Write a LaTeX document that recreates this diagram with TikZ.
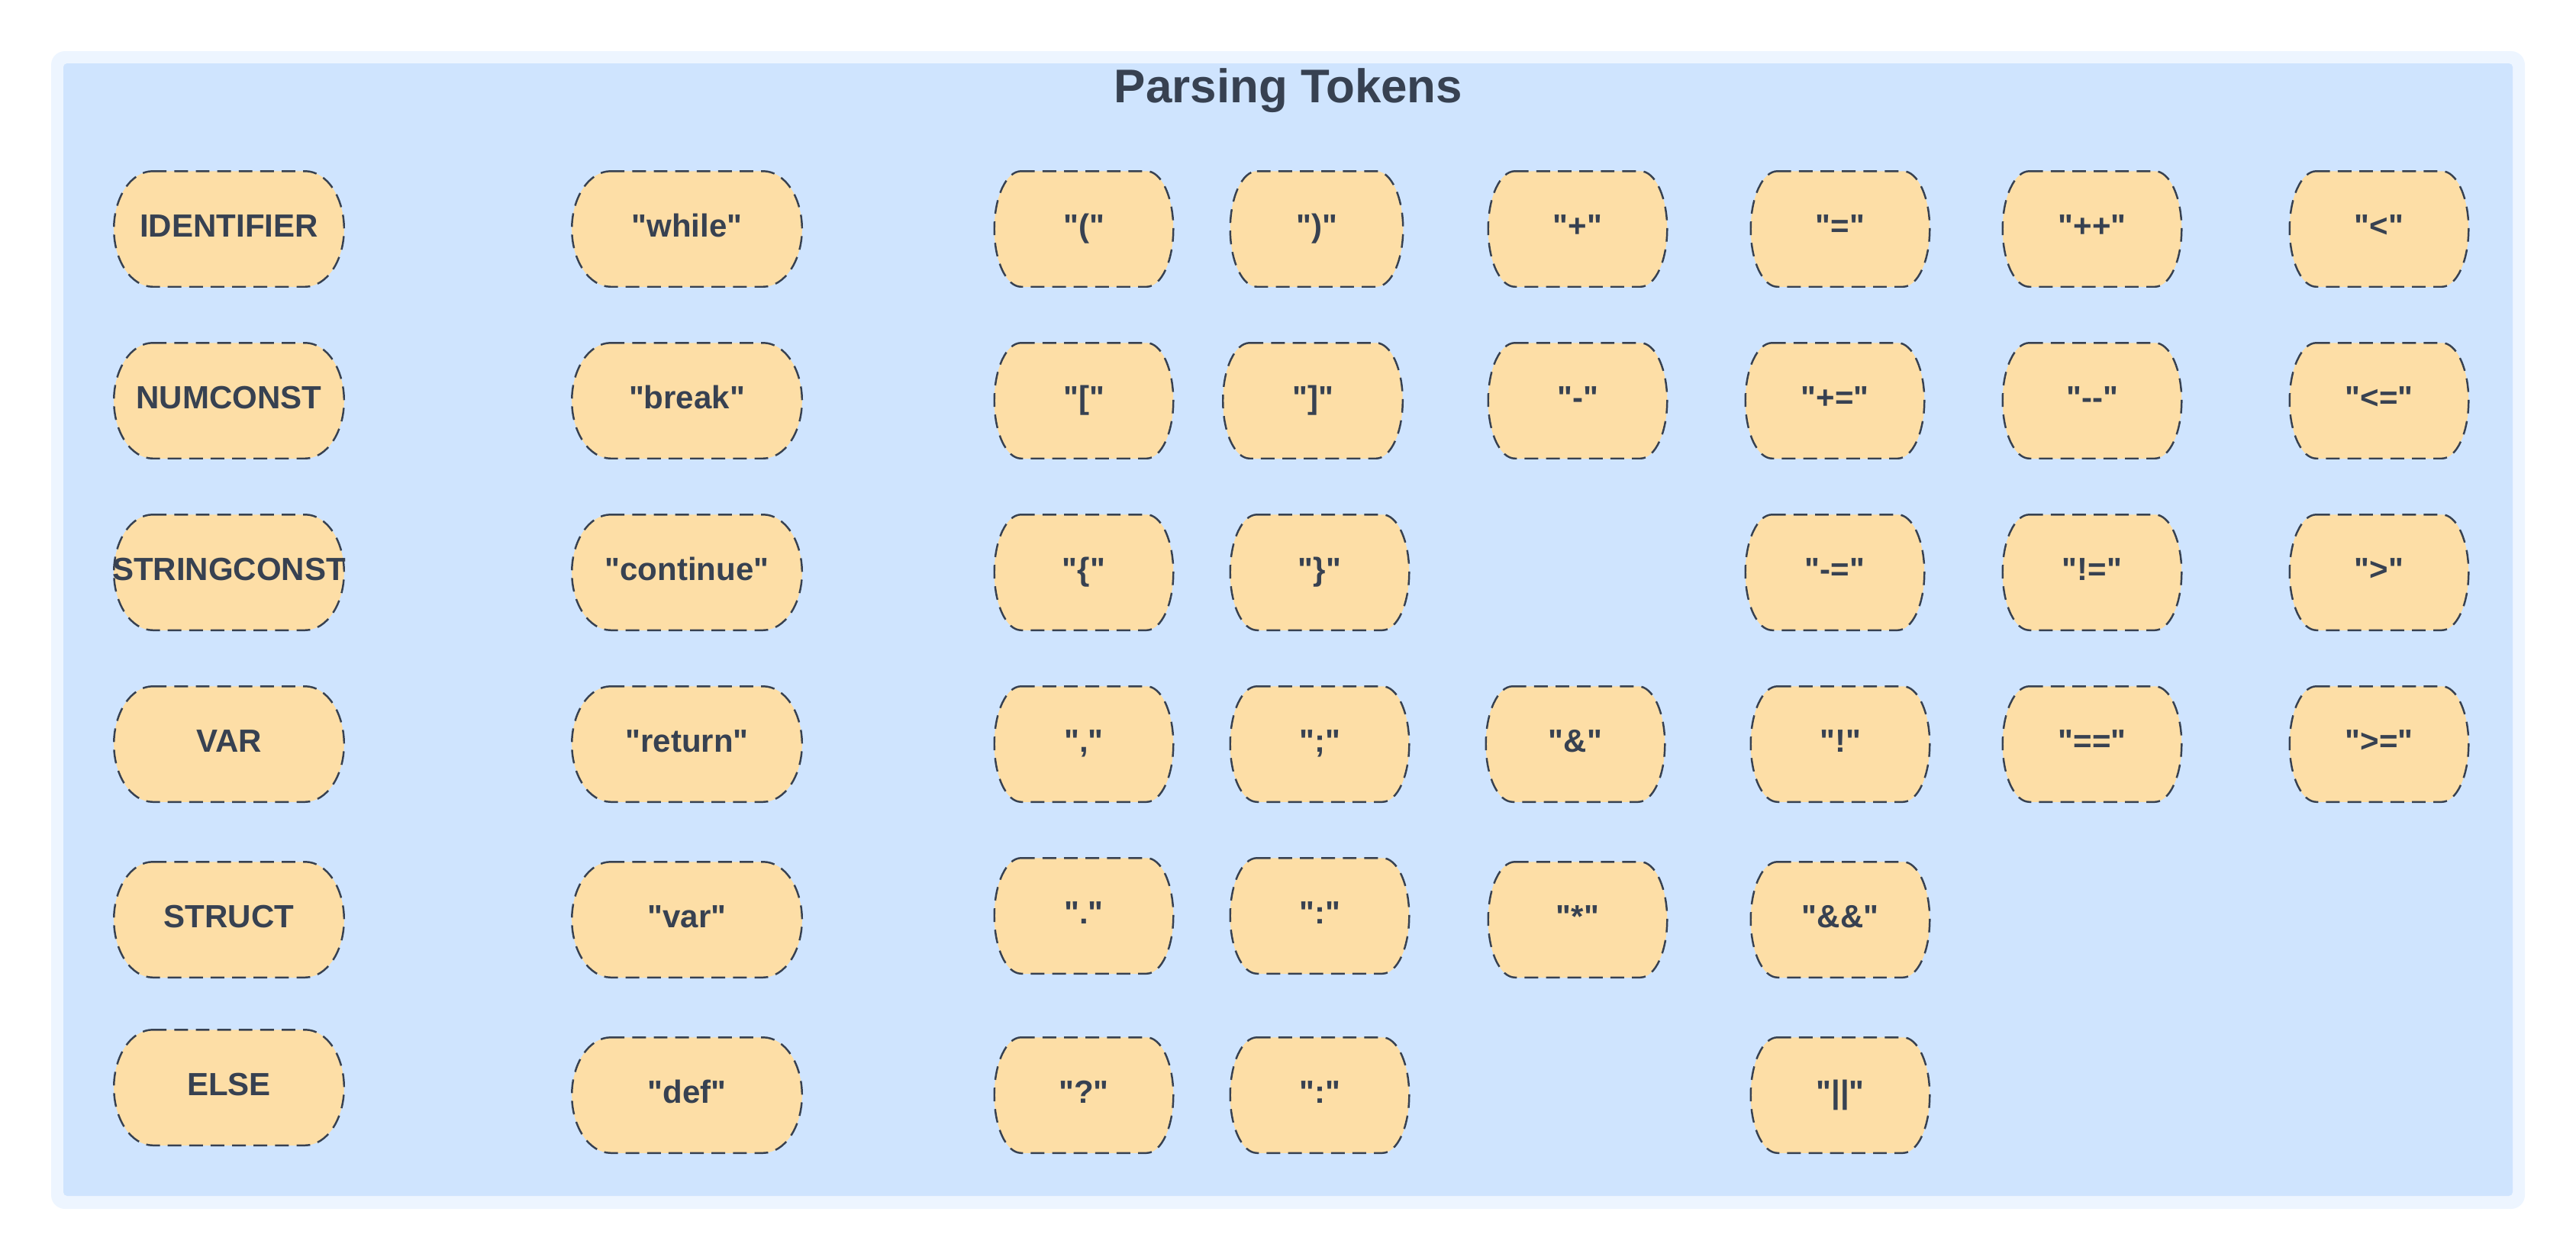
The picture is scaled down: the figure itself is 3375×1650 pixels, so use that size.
\documentclass[tikz,border=0pt]{standalone}
\usepackage{fontspec}
\setmainfont{Liberation Sans}[Ligatures=TeXOff]
\usepackage{xcolor}
\usepackage{tikz}
\usetikzlibrary{calc}
\definecolor{cadrepale}{RGB}{237,245,255}
\definecolor{fondbleu}{RGB}{207,228,254}
\definecolor{jetonorange}{RGB}{253,222,166}
\definecolor{encregris}{RGB}{55,65,81}
\pgfdeclarelayer{fond}
\pgfsetlayers{fond,main}
% barrel outline round a token node: #1 node, #2 side inset
\newcommand{\tokbarrel}[2]{%
  \draw[tokline] let \p1=(#1.north west), \p2=(#1.south east), \n1={(\y1-\y2)/2} in
    (\x1+#2,\y1) -- (\x2-#2,\y1)
    arc[start angle=90, end angle=-90, x radius=#2, y radius=\n1]
    -- (\x1+#2,\y2)
    arc[start angle=270, end angle=90, x radius=#2, y radius=\n1] -- cycle;}

\begin{document}
\begin{tikzpicture}[x=0.01cm, y=-0.01cm,
    tok/.style={minimum height=1.5cm, inner sep=0pt, text=encregris,
      font=\bfseries\fontsize{11.95}{14}\selectfont, text height=0.3cm, text depth=0.1cm},
    tokwide/.style={tok, minimum width=3cm},
    toknarrow/.style={tok, minimum width=2.33cm},
    tokline/.style={draw=encregris, fill=jetonorange, line width=0.7pt, dash pattern=on 5.1pt off 2.9pt}]
    \useasboundingbox (0,0) rectangle (3375,1650);

    \node[anchor=base, text=encregris, font=\bfseries\fontsize{17.6}{20}\selectfont] (title) at (1688,134) {Parsing Tokens};

    % token classes and keywords
    \node[tokwide] (ident) at (300,300) {IDENTIFIER};
    \node[tokwide] (numconst) at (300,525) {NUMCONST};
    \node[tokwide, inner xsep=-0.04cm] (strconst) at (300,750) {STRINGCONST};
    \node[tokwide] (varkw) at (300,975) {VAR};
    \node[tokwide] (struct) at (300,1205) {STRUCT};
    \node[tokwide] (elsekw) at (300,1425) {ELSE};
    \node[tokwide] (while) at (900,300) {"while"};
    \node[tokwide] (break) at (900,525) {"break"};
    \node[tokwide] (continue) at (900,750) {"continue"};
    \node[tokwide] (return) at (900,975) {"return"};
    \node[tokwide] (var) at (900,1205) {"var"};
    \node[tokwide] (def) at (900,1435) {"def"};

    % punctuation
    \node[toknarrow] (lpar) at (1420,300) {"("};
    \node[toknarrow] (lbrack) at (1420,525) {"["};
    \node[toknarrow] (lbrace) at (1420,750) {"\{"};
    \node[toknarrow] (comma) at (1420,975) {","};
    \node[toknarrow] (dot) at (1420,1200) {"."};
    \node[toknarrow] (quest) at (1420,1435) {"?"};
    \node[toknarrow, minimum width=2.25cm] (rpar) at (1725,300) {")"};
    \node[toknarrow, minimum width=2.34cm] (rbrack) at (1720,525) {"]"};
    \node[toknarrow] (rbrace) at (1729,750) {"\}"};
    \node[toknarrow] (semi) at (1729,975) {";"};
    \node[toknarrow] (colon) at (1729,1200) {":"};
    \node[toknarrow] (colonb) at (1729,1435) {":"};

    % operators
    \node[toknarrow] (plus) at (2067,300) {"+"};
    \node[toknarrow] (minus) at (2067,525) {"-"};
    \node[toknarrow] (amp) at (2064,975) {"\&"};
    \node[toknarrow] (star) at (2067,1205) {"*"};
    \node[toknarrow] (assign) at (2411,300) {"="};
    \node[toknarrow] (pluseq) at (2404,525) {"+="};
    \node[toknarrow] (minuseq) at (2404,750) {"-="};
    \node[toknarrow] (bang) at (2411,975) {"!"};
    \node[toknarrow] (andand) at (2411,1205) {"\&\&"};
    \node[toknarrow] (oror) at (2411,1435) {"||"};
    \node[toknarrow] (incr) at (2741,300) {"++"};
    \node[toknarrow] (decr) at (2741,525) {"-{}-"};
    \node[toknarrow] (neq) at (2741,750) {"!="};
    \node[toknarrow] (eqeq) at (2741,975) {"=="};
    \node[toknarrow] (lt) at (3117,300) {"<"};
    \node[toknarrow] (le) at (3117,525) {"<="};
    \node[toknarrow] (gt) at (3117,750) {">"};
    \node[toknarrow] (ge) at (3117,975) {">="};

    \begin{pgfonlayer}{fond}
        \fill[cadrepale, rounded corners=0.18cm] (67,67) rectangle (3308,1584);
        \fill[fondbleu, rounded corners=0.05cm] (83,83) rectangle (3292,1567);
        \foreach \tk in {ident,numconst,strconst,varkw,struct,elsekw,while,break,continue,return,var,def}
            \tokbarrel{\tk}{0.51cm};
        \foreach \tk in {lpar,lbrack,lbrace,comma,dot,quest,rpar,rbrack,rbrace,semi,colon,colonb,
                plus,minus,amp,star,assign,pluseq,minuseq,bang,andand,oror,incr,decr,neq,eqeq,lt,le,gt,ge}
            \tokbarrel{\tk}{0.35cm};
    \end{pgfonlayer}
\end{tikzpicture}
\end{document}
